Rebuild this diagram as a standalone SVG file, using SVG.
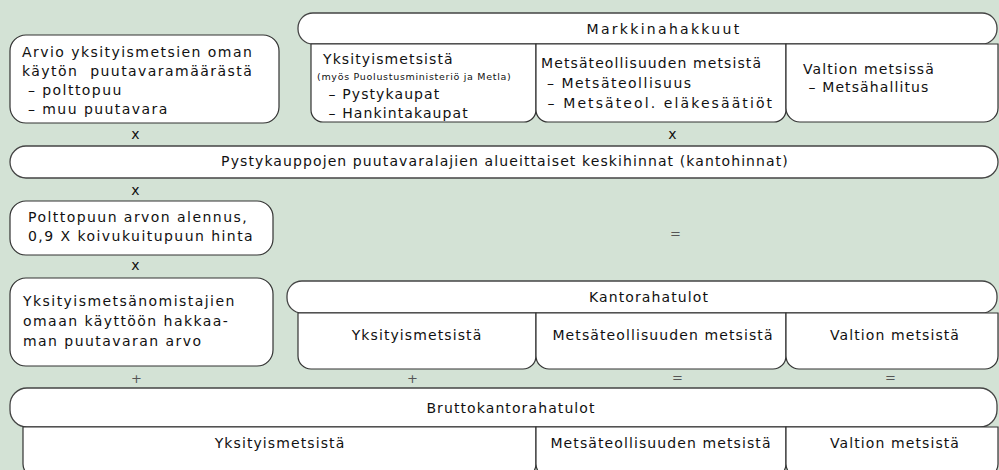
<svg xmlns="http://www.w3.org/2000/svg" width="999" height="470" viewBox="0 0 999 470">
<style>
.box{fill:#fff;stroke:#333;stroke-width:1.2}
.bar{fill:#fff;stroke:#444;stroke-width:1.3}
text{font-family:"DejaVu Sans","Liberation Sans",sans-serif;font-size:14px;letter-spacing:1.1px;fill:#111}
.c{text-anchor:middle}
.w{letter-spacing:1.45px}
.sm{font-size:9.5px;letter-spacing:0.7px}
.op{text-anchor:middle;fill:#111}
.op2{text-anchor:middle;fill:#555;font-size:13px}
</style>
<rect width="999" height="470" fill="#d3e2d5"/>

<g id="arvio">
<rect class="box" x="10" y="35" width="269" height="88" rx="16"/>
<text class="w" x="22" y="57">Arvio yksityismetsien oman</text>
<text class="w" x="22" y="76" xml:space="preserve">käytön  puutavaramäärästä</text>
<text class="w" x="22" y="95" xml:space="preserve"> – polttopuu</text>
<text class="w" x="22" y="114" xml:space="preserve"> – muu puutavara</text>
</g>

<g id="markkinahakkuut">
<rect class="bar" x="298" y="13" width="699" height="31" rx="15"/>
<text class="c" x="664" y="34" style="letter-spacing:2.3px">Markkinahakkuut</text>
</g>
<g id="markkina-yksityis">
<path class="box" d="M311,44 H536 V110 A12,12 0 0 1 524,122 H323 A12,12 0 0 1 311,110 Z"/>
<text x="323" y="64">Yksityismetsistä</text>
<text class="sm" x="317" y="80">(myös Puolustusministeriö ja Metla)</text>
<text x="323" y="99" xml:space="preserve"> – Pystykaupat</text>
<text x="323" y="118" xml:space="preserve"> – Hankintakaupat</text>
</g>
<g id="markkina-metsateollisuus">
<path class="box" d="M536,44 H786 V110 A12,12 0 0 1 774,122 H548 A12,12 0 0 1 536,110 Z"/>
<text x="541" y="68">Metsäteollisuuden metsistä</text>
<text x="541" y="88" xml:space="preserve" style="letter-spacing:1.5px"> – Metsäteollisuus</text>
<text x="541" y="108" xml:space="preserve" style="letter-spacing:2.1px"> – Metsäteol. eläkesäätiöt</text>
</g>
<g id="markkina-valtio">
<path class="box" d="M786,44 H998 V108 A14,14 0 0 1 984,122 H800 A14,14 0 0 1 786,108 Z"/>
<text x="803" y="74">Valtion metsissä</text>
<text x="803" y="92" xml:space="preserve"> – Metsähallitus</text>
</g>

<g id="keskihinnat">
<rect class="bar" x="10" y="146" width="988" height="32" rx="16"/>
<text class="c" x="505" y="166">Pystykauppojen puutavaralajien alueittaiset keskihinnat (kantohinnat)</text>
</g>

<g id="polttopuu">
<rect class="box" x="10" y="201" width="263" height="54" rx="16"/>
<text class="w" x="28" y="222">Polttopuun arvon alennus,</text>
<text class="w" x="28" y="241">0,9 X koivukuitupuun hinta</text>
</g>

<g id="omakaytto">
<rect class="box" x="10" y="278" width="263" height="88" rx="16"/>
<text class="w" x="23" y="306">Yksityismetsänomistajien</text>
<text class="w" x="23" y="326">omaan käyttöön hakkaa-</text>
<text class="w" x="23" y="346">man puutavaran arvo</text>
</g>

<g id="kantorahatulot">
<rect class="bar" x="287" y="281" width="710" height="32" rx="15"/>
<text class="c" x="649" y="302">Kantorahatulot</text>
</g>
<g id="kanto-yksityis">
<path class="box" d="M298,313 H536 V356 A13,13 0 0 1 523,369 H311 A13,13 0 0 1 298,356 Z"/>
<text class="c" x="417" y="340">Yksityismetsistä</text>
</g>
<g id="kanto-metsateollisuus">
<path class="box" d="M536,313 H786 V356 A13,13 0 0 1 773,369 H549 A13,13 0 0 1 536,356 Z"/>
<text class="c" x="663" y="340">Metsäteollisuuden metsistä</text>
</g>
<g id="kanto-valtio">
<path class="box" d="M786,313 H998 V356 A13,13 0 0 1 985,369 H799 A13,13 0 0 1 786,356 Z"/>
<text class="c" x="895" y="340">Valtion metsistä</text>
</g>

<g id="brutto">
<rect class="bar" x="10" y="388" width="987" height="39" rx="17"/>
<text class="c" x="511" y="413">Bruttokantorahatulot</text>
</g>
<g id="brutto-yksityis">
<path class="box" d="M23,427 H536 V464 A13,13 0 0 1 523,477 H36 A13,13 0 0 1 23,464 Z"/>
<text class="c" x="280" y="448">Yksityismetsistä</text>
</g>
<g id="brutto-metsateollisuus">
<path class="box" d="M536,427 H786 V464 A13,13 0 0 1 773,477 H549 A13,13 0 0 1 536,464 Z"/>
<text class="c" x="661" y="448">Metsäteollisuuden metsistä</text>
</g>
<g id="brutto-valtio">
<path class="box" d="M786,427 H998 V464 A13,13 0 0 1 985,477 H799 A13,13 0 0 1 786,464 Z"/>
<text class="c" x="895" y="448">Valtion metsistä</text>
</g>

<g id="connectors">
<text class="op" x="136" y="139">x</text>
<text class="op" x="673" y="139">x</text>
<text class="op" x="136" y="195">x</text>
<text class="op2" x="676" y="238">=</text>
<text class="op" x="136" y="270">x</text>
<text class="op2" x="137" y="383">+</text>
<text class="op2" x="413" y="383">+</text>
<text class="op2" x="678" y="382">=</text>
<text class="op2" x="891" y="382">=</text>
</g>
</svg>
